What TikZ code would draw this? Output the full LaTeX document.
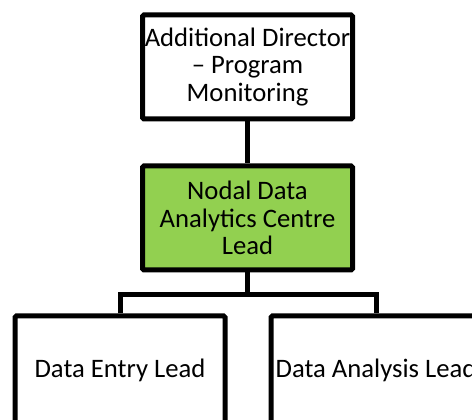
\documentclass[tikz,border=0pt]{standalone}
\usepackage{fontspec}
\setmainfont{Carlito}
\definecolor{leadgreen}{HTML}{92D050}
\tikzset{
  box/.style={draw=black, line width=3.75pt, fill=white, minimum width=157.5pt,
    minimum height=78pt, align=center, inner sep=0pt, rounded corners=1pt,
    font=\fontsize{20}{20.8}\selectfont, text=black},
  link/.style={draw=black, line width=3.75pt},
}
\begin{document}
\begin{tikzpicture}[x=0.75pt, y=-0.75pt]
\useasboundingbox (0,0) rectangle (472,420);
\begin{scope}
\clip (0,0) rectangle (472,420);
\node[box] (dir) at (247.5,67) {Additional Director\\\textendash{} Program\\Monitoring};
\node[box, fill=leadgreen] (nodal) at (247.5,218) {Nodal Data\\Analytics Centre\\Lead};
\node[box, minimum height=81pt] (entry) at (120,370) {Data Entry Lead};
\node[box, minimum height=81pt] (analysis) at (376,370) {Data Analysis Lead};
\coordinate (j) at (247.5,294.5);
\draw[link] (dir.south) -- (nodal.north);
\draw[link] (nodal.south) -- (j);
\draw[link] (entry.north) |- (j) -| (analysis.north);
\end{scope}
\end{tikzpicture}
\end{document}
